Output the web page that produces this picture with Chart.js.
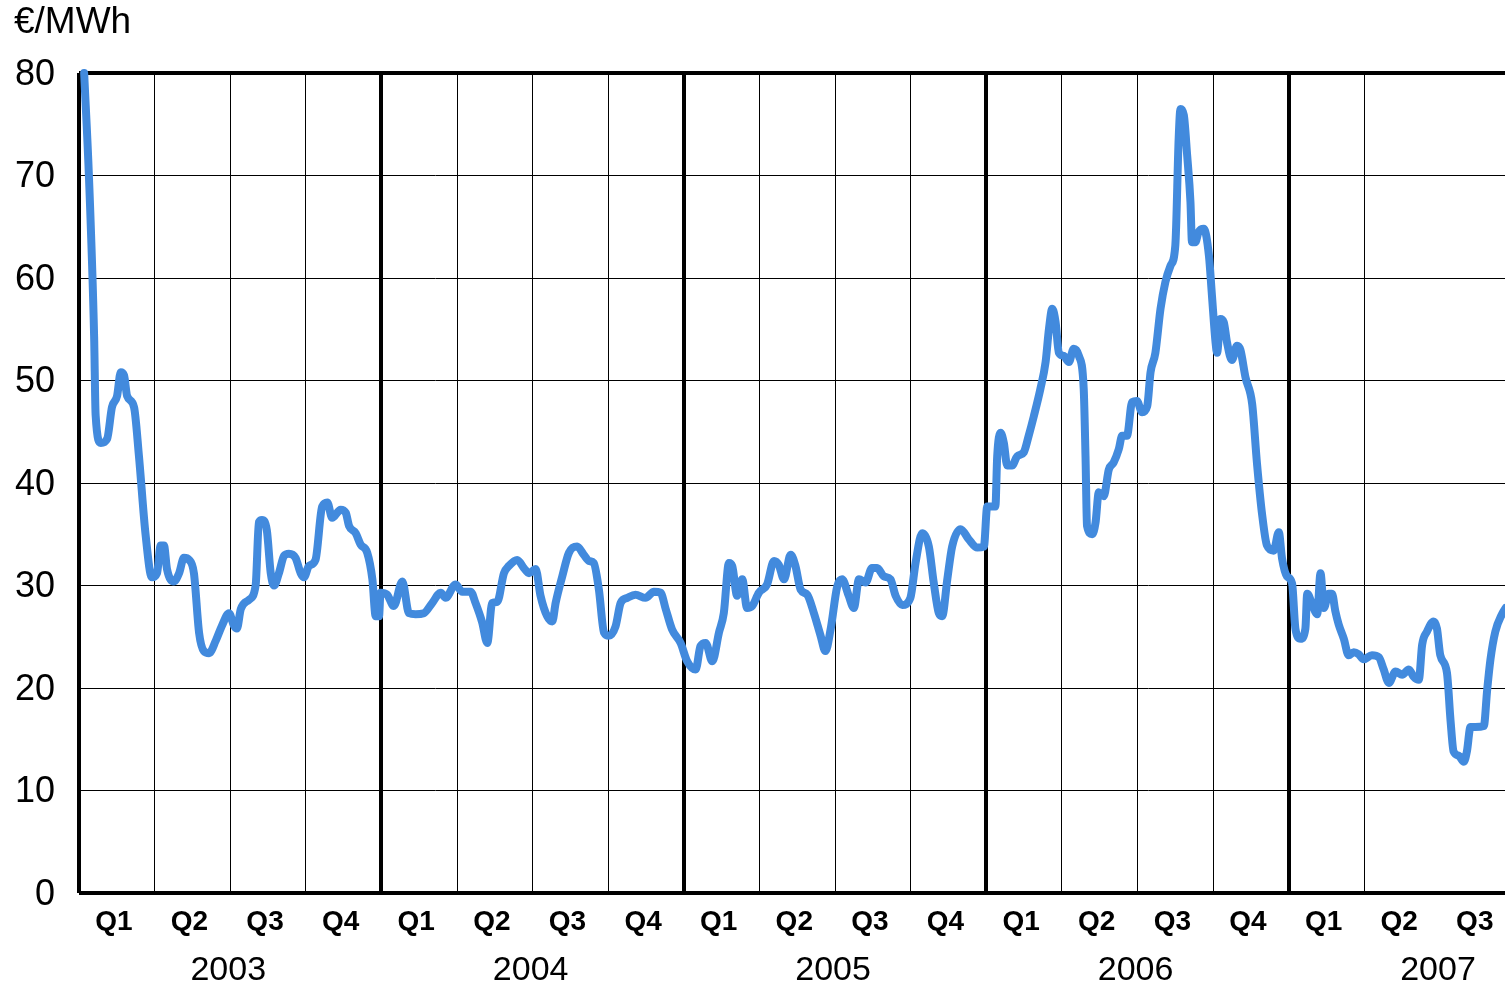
<!DOCTYPE html>
<html>
<head>
<meta charset="utf-8">
<script src="https://cdn.jsdelivr.net/npm/chart.js@4.4.1/dist/chart.umd.min.js"></script>
<style>
html,body{margin:0;padding:0;background:#fff;}
#wrap{width:1505px;height:987px;position:relative;}
</style>
</head>
<body>
<div id="wrap"><canvas id="c" width="1505" height="987"></canvas></div>
<script>
// Time in years since 1 Jan 2003
const yearOffsets = [
0.017,0.033,0.050,0.055,0.072,0.093,0.109,0.126,0.138,0.149,0.159,0.182,0.198,0.220,0.241,0.258,0.270,0.281,0.291,0.314,
0.331,0.347,0.364,0.380,0.397,0.413,0.430,0.452,0.473,0.496,0.512,0.522,0.535,0.562,0.584,0.595,0.605,0.621,0.634,0.645,
0.661,0.678,0.694,0.716,0.733,0.744,0.760,0.782,0.804,0.821,0.837,0.865,0.882,0.893,0.915,0.931,0.953,0.970,0.981,0.992,
0.997,1.019,1.041,1.069,1.091,1.113,1.140,1.168,1.196,1.212,1.245,1.267,1.295,1.311,1.333,1.350,1.366,1.383,1.405,1.421,
1.449,1.471,1.488,1.510,1.526,1.548,1.565,1.576,1.598,1.620,1.647,1.669,1.686,1.702,1.719,1.736,1.752,1.774,1.791,1.813,
1.840,1.873,1.901,1.923,1.940,1.961,1.989,2.011,2.039,2.055,2.072,2.094,2.116,2.132,2.149,2.160,2.176,2.193,2.209,2.226,
2.248,2.275,2.298,2.314,2.331,2.353,2.369,2.386,2.408,2.430,2.452,2.468,2.485,2.507,2.523,2.545,2.562,2.579,2.601,2.622,
2.639,2.661,2.683,2.700,2.722,2.749,2.766,2.788,2.810,2.826,2.843,2.854,2.871,2.887,2.915,2.942,2.970,2.992,3.003,3.030,
3.036,3.047,3.058,3.069,3.085,3.102,3.124,3.140,3.157,3.179,3.196,3.207,3.218,3.229,3.240,3.256,3.273,3.289,3.306,3.322,
3.328,3.333,3.350,3.361,3.372,3.388,3.405,3.421,3.438,3.449,3.465,3.482,3.498,3.515,3.532,3.543,3.559,3.576,3.592,3.609,
3.625,3.636,3.642,3.653,3.664,3.675,3.680,3.691,3.702,3.719,3.736,3.746,3.758,3.763,3.774,3.785,3.796,3.812,3.829,3.840,
3.857,3.879,3.895,3.912,3.928,3.950,3.967,3.978,3.994,4.011,4.022,4.039,4.055,4.061,4.077,4.094,4.105,4.116,4.132,4.143,
4.154,4.165,4.182,4.198,4.215,4.231,4.248,4.275,4.298,4.314,4.331,4.353,4.375,4.397,4.413,4.430,4.441,4.457,4.479,4.490,
4.501,4.523,4.535,4.545,4.562,4.579,4.589,4.601,4.617,4.645,4.656,4.667,4.683,4.705,4.717
];
const prices = [
80.0,69.8,54.3,46.6,43.9,44.3,47.4,48.5,50.8,50.5,48.5,47.4,42.7,35.0,30.8,31.2,33.9,33.9,31.6,30.4,
31.2,32.7,32.5,31.2,25.4,23.6,23.4,24.6,26.1,27.3,26.1,25.8,27.7,28.6,30.0,36.2,36.4,35.4,31.2,30.0,
31.2,32.9,33.1,32.7,31.2,30.8,31.9,32.5,37.7,38.1,36.6,37.4,37.1,35.8,35.1,34.0,33.2,30.6,27.0,27.0,
29.3,29.1,28.0,30.4,27.3,27.2,27.3,28.3,29.3,28.8,30.1,29.4,29.4,28.3,26.4,24.4,28.3,28.4,31.2,31.9,
32.5,31.7,31.2,31.6,29.0,27.0,26.5,28.3,30.9,33.2,33.8,33.0,32.4,32.2,29.6,25.4,25.1,26.0,28.3,28.8,
29.1,28.8,29.4,29.3,27.7,25.7,24.4,22.6,21.8,24.1,24.4,22.6,25.4,27.3,32.2,31.9,29.0,30.6,27.8,28.0,
29.3,30.1,32.4,32.0,30.6,33.0,31.9,29.6,29.1,27.3,25.1,23.6,25.7,29.9,30.6,29.0,27.8,30.6,30.3,31.7,
31.7,30.9,30.6,29.0,28.1,28.8,32.2,35.1,33.8,30.3,27.3,27.0,30.6,33.8,35.5,34.5,33.7,33.8,37.7,37.7,
42.6,44.9,43.9,41.7,41.7,42.6,43.0,44.6,46.5,49.2,51.8,55.0,57.0,55.7,52.7,52.4,51.8,53.1,52.4,49.2,
42.6,35.8,35.0,36.1,39.1,38.7,41.3,42.0,43.3,44.6,44.6,47.9,48.0,46.9,47.5,50.8,52.7,57.0,59.6,61.2,
63.2,73.6,76.5,75.9,72.0,67.4,63.5,63.5,64.5,64.8,62.2,58.3,53.7,52.7,56.0,55.7,53.7,52.0,53.4,53.0,
50.3,47.7,41.9,36.9,33.9,33.4,35.2,32.6,30.9,30.2,25.8,24.8,25.8,29.2,28.2,27.2,31.2,27.8,29.2,29.2,
27.5,26.2,24.8,23.2,23.5,23.3,22.8,23.2,23.0,21.8,20.5,21.6,21.3,21.8,21.1,20.8,24.2,25.5,26.5,25.8,
23.2,21.5,16.8,13.8,13.4,12.8,13.8,16.2,16.2,16.3,19.8,22.8,25.5,27.2,27.8
];
const startYear = 2003;
const years = [2003, 2004, 2005, 2006, 2007];
const quarterLabels = ['Q1', 'Q2', 'Q3', 'Q4'];
const yTicks = [0, 10, 20, 30, 40, 50, 60, 70, 80];
const unitLabel = '€/MWh';
const xMax = 2007.715;

const points = yearOffsets.map((t, i) => ({ x: startYear + t, y: prices[i] }));

const isYear = v => Math.abs(v - Math.round(v)) < 1e-6;
const isQuarter = v => Math.abs(v * 4 - Math.round(v * 4)) < 1e-6;

const labelPlugin = {
  id: 'labels',
  afterDraw(chart) {
    const ctx = chart.ctx;
    const xs = chart.scales.x, ys = chart.scales.y;
    ctx.save();
    ctx.fillStyle = '#000';
    // y tick labels
    ctx.font = '36px "Liberation Sans", Arial, sans-serif';
    ctx.textAlign = 'right';
    ctx.textBaseline = 'middle';
    yTicks.forEach(v => ctx.fillText(String(v), 55, ys.getPixelForValue(v) + 2));
    // unit
    ctx.font = '37px "Liberation Sans", Arial, sans-serif';
    ctx.textAlign = 'left';
    ctx.fillText(unitLabel, 14, 23);
    // quarter labels
    ctx.font = 'bold 28px "Liberation Sans", Arial, sans-serif';
    ctx.textAlign = 'center';
    years.forEach(yr => {
      quarterLabels.forEach((q, qi) => {
        const v = yr + (qi + 0.5) / 4;
        if (v > xMax) return;
        ctx.fillText(q, xs.getPixelForValue(v) - 3, 922);
      });
    });
    ctx.font = '34px "Liberation Sans", Arial, sans-serif';
    years.forEach(yr => {
      ctx.fillText(String(yr), xs.getPixelForValue(yr + 0.5) - 2, 971);
    });
    ctx.restore();
  }
};

new Chart(document.getElementById('c'), {
  type: 'line',
  data: {
    datasets: [{
      data: points,
      borderColor: '#428ADD',
      borderWidth: 8,
      pointRadius: 0,
      cubicInterpolationMode: 'monotone',
      fill: false,
      clip: false,
      borderCapStyle: 'round',
      borderJoinStyle: 'round'
    }]
  },
  options: {
    responsive: false,
    animation: false,
    events: [],
    layout: { padding: { left: 79, top: 73, right: 0, bottom: 94 } },
    plugins: { legend: { display: false }, tooltip: { enabled: false } },
    scales: {
      x: {
        type: 'linear',
        min: startYear,
        max: xMax,
        border: { display: false },
        ticks: { display: false, stepSize: 0.25 },
        grid: {
          drawTicks: false,
          color: '#000',
          lineWidth: c => {
            const v = c.tick ? c.tick.value : 0;
            if (isYear(v)) return 4;
            if (isQuarter(v)) return 1;
            return 0;
          }
        }
      },
      y: {
        min: 0,
        max: 80,
        border: { display: false },
        ticks: { display: false, stepSize: 10 },
        grid: {
          drawTicks: false,
          color: '#000',
          lineWidth: c => {
            const v = c.tick ? c.tick.value : 0;
            return (v === 0 || v === 80) ? 4 : 1;
          }
        }
      }
    }
  },
  plugins: [labelPlugin]
});
</script>
</body>
</html>
